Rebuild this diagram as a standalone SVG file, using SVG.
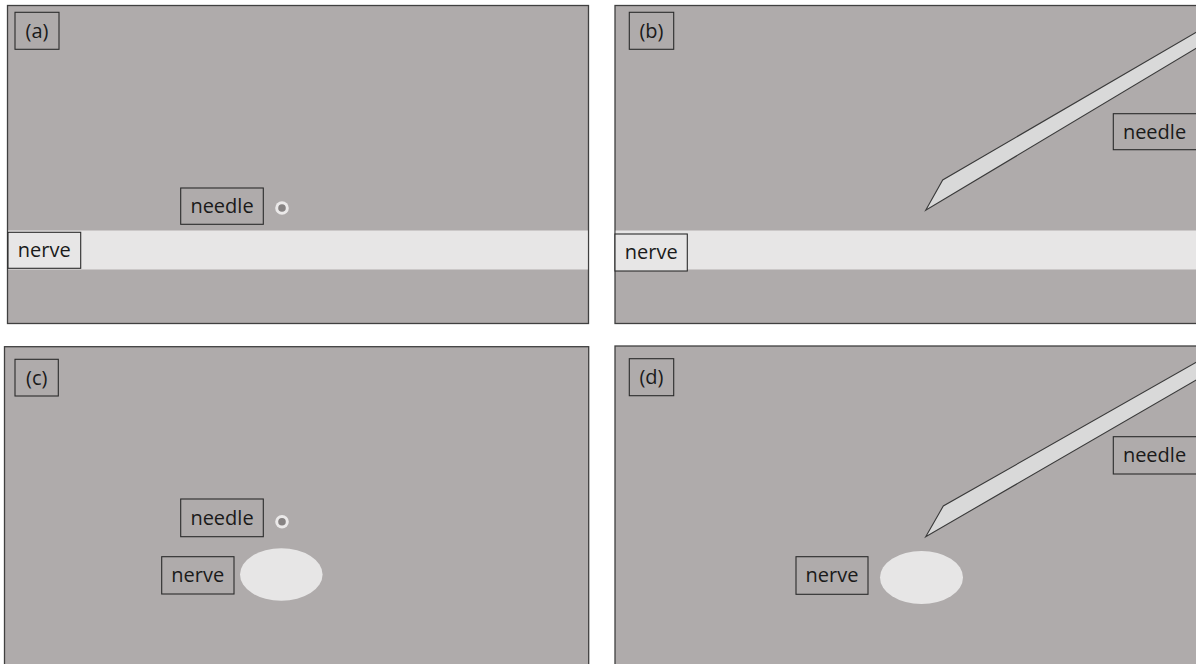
<svg xmlns="http://www.w3.org/2000/svg" width="1196" height="664" viewBox="0 0 1196 664">
<style>
.panel{fill:#afabab;stroke:#404040;stroke-width:1.3}
.band{fill:#e7e6e6}
.lbl{fill:none;stroke:#2b2b2b;stroke-width:1.1}
.lbll{fill:#e7e6e6;stroke:#2b2b2b;stroke-width:1.1}
.t{font-family:"Open Sans","Noto Sans",sans-serif;font-size:20px;fill:#1a1a1a;text-anchor:middle}
.needle{fill:#d9d9d9;stroke:#3a3a3a;stroke-width:1.1;stroke-linejoin:miter}
.ring{fill:#ebe9e9}
.dot{fill:#878383}
.nerveov{fill:#e7e6e6}
</style>
<rect width="1196" height="664" fill="#ffffff"/>

<g id="panel-a">
<rect class="panel" x="7.5" y="5.5" width="581" height="318"/>
<rect class="band" x="8.2" y="230.5" width="579.6" height="39"/>
<g id="label-a"><rect class="lbl" x="15" y="12.3" width="44" height="37"/><text class="t" x="37" y="37.7">(a)</text></g>
<g id="needle-a"><rect class="lbl" x="180.7" y="188" width="82.6" height="36.3"/><text class="t" x="222" y="213.3">needle</text>
<circle class="ring" cx="282" cy="208" r="6.8"/><circle class="dot" cx="282" cy="208" r="3.8"/></g>
<g id="nerve-a"><rect class="lbll" x="8" y="232.3" width="72.7" height="36"/><text class="t" x="44.3" y="257">nerve</text></g>
</g>

<g id="panel-b">
<rect class="panel" x="615" y="5.5" width="590" height="318"/>
<rect class="band" x="615.7" y="230.5" width="581" height="39"/>
<g id="label-b"><rect class="lbl" x="629.3" y="12.3" width="44.4" height="37"/><text class="t" x="651.5" y="37.7">(b)</text></g>
<g id="needle-b"><polygon class="needle" points="925.7,210.3 942.7,180 1197,31.7 1197,47.8"/>
<rect class="lbl" x="1113.3" y="113.7" width="90" height="36"/><text class="t" x="1154.5" y="138.8">needle</text></g>
<g id="nerve-b"><rect class="lbll" x="615" y="234" width="72.3" height="37"/><text class="t" x="651.2" y="258.6">nerve</text></g>
</g>

<g id="panel-c">
<rect class="panel" x="4.5" y="346.7" width="584.2" height="330"/>
<g id="label-c"><rect class="lbl" x="15" y="359.3" width="43.3" height="36.7"/><text class="t" x="36.7" y="384.7">(c)</text></g>
<g id="needle-c"><rect class="lbl" x="180.7" y="499" width="82.6" height="37.7"/><text class="t" x="222" y="524.8">needle</text>
<circle class="ring" cx="282" cy="521.7" r="6.8"/><circle class="dot" cx="282" cy="521.7" r="3.8"/></g>
<g id="nerve-c"><rect class="lbl" x="161.7" y="556.7" width="72.3" height="37.3"/><text class="t" x="197.8" y="581.8">nerve</text>
<ellipse class="nerveov" cx="281.3" cy="574.5" rx="41.3" ry="26.2"/></g>
</g>

<g id="panel-d">
<rect class="panel" x="615" y="346" width="590" height="330"/>
<g id="label-d"><rect class="lbl" x="629.3" y="358.7" width="44.4" height="37"/><text class="t" x="651.5" y="384.2">(d)</text></g>
<g id="needle-d"><polygon class="needle" points="925.7,536.7 943.3,506 1197,361.7 1197,379.6"/>
<rect class="lbl" x="1113.3" y="436.7" width="90" height="37.3"/><text class="t" x="1154.5" y="462.2">needle</text></g>
<g id="nerve-d"><rect class="lbl" x="796" y="556.7" width="72" height="37.6"/><text class="t" x="832" y="581.8">nerve</text>
<ellipse class="nerveov" cx="921.5" cy="577.5" rx="41.5" ry="26.5"/></g>
</g>

<g id="connectors"></g>
</svg>
